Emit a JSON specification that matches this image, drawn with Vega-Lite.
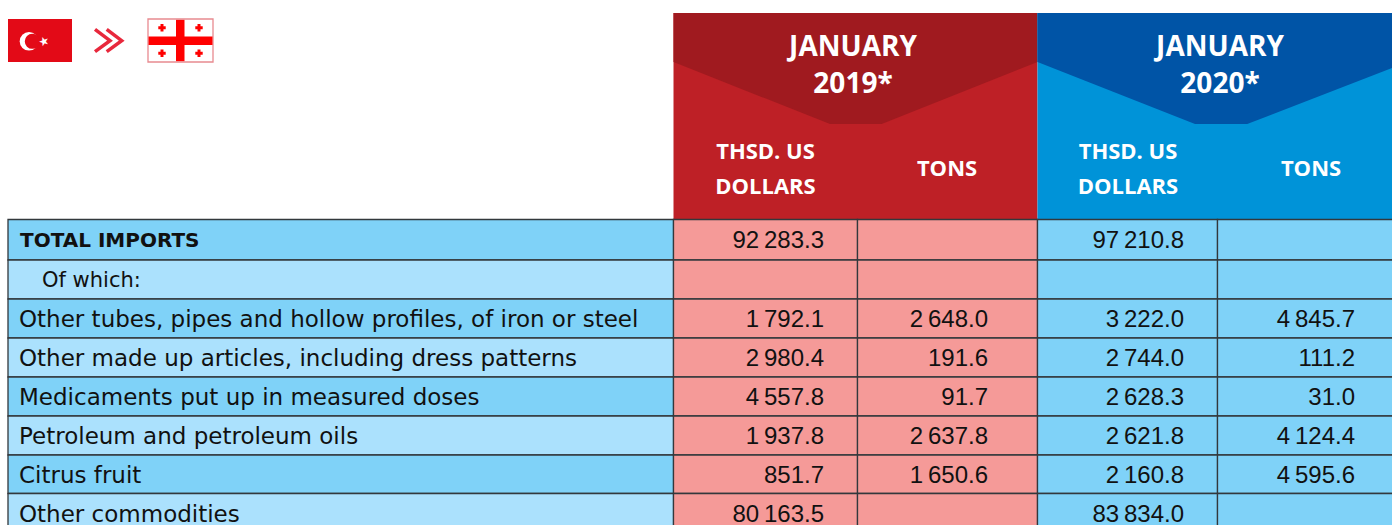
{"$schema":"https://vega.github.io/schema/vega-lite/v6.json","width":1392,"height":525,"padding":0,"autosize":{"type":"none"},"background":"white","config":{"view":{"stroke":null}},"datasets":{"cells":[{"row":0,"col":0,"tone":"a","val":""},{"row":1,"col":0,"tone":"b","val":""},{"row":2,"col":0,"tone":"a","val":""},{"row":3,"col":0,"tone":"b","val":""},{"row":4,"col":0,"tone":"a","val":""},{"row":5,"col":0,"tone":"b","val":""},{"row":6,"col":0,"tone":"a","val":""},{"row":7,"col":0,"tone":"b","val":""},{"row":0,"col":1,"tone":"p","val":"92\u2009283.3"},{"row":0,"col":2,"tone":"p","val":""},{"row":0,"col":3,"tone":"a","val":"97\u2009210.8"},{"row":0,"col":4,"tone":"a","val":""},{"row":1,"col":1,"tone":"p","val":""},{"row":1,"col":2,"tone":"p","val":""},{"row":1,"col":3,"tone":"a","val":""},{"row":1,"col":4,"tone":"a","val":""},{"row":2,"col":1,"tone":"p","val":"1\u2009792.1"},{"row":2,"col":2,"tone":"p","val":"2\u2009648.0"},{"row":2,"col":3,"tone":"a","val":"3\u2009222.0"},{"row":2,"col":4,"tone":"a","val":"4\u2009845.7"},{"row":3,"col":1,"tone":"p","val":"2\u2009980.4"},{"row":3,"col":2,"tone":"p","val":"191.6"},{"row":3,"col":3,"tone":"a","val":"2\u2009744.0"},{"row":3,"col":4,"tone":"a","val":"111.2"},{"row":4,"col":1,"tone":"p","val":"4\u2009557.8"},{"row":4,"col":2,"tone":"p","val":"91.7"},{"row":4,"col":3,"tone":"a","val":"2\u2009628.3"},{"row":4,"col":4,"tone":"a","val":"31.0"},{"row":5,"col":1,"tone":"p","val":"1\u2009937.8"},{"row":5,"col":2,"tone":"p","val":"2\u2009637.8"},{"row":5,"col":3,"tone":"a","val":"2\u2009621.8"},{"row":5,"col":4,"tone":"a","val":"4\u2009124.4"},{"row":6,"col":1,"tone":"p","val":"851.7"},{"row":6,"col":2,"tone":"p","val":"1\u2009650.6"},{"row":6,"col":3,"tone":"a","val":"2\u2009160.8"},{"row":6,"col":4,"tone":"a","val":"4\u2009595.6"},{"row":7,"col":1,"tone":"p","val":"80\u2009163.5"},{"row":7,"col":2,"tone":"p","val":""},{"row":7,"col":3,"tone":"a","val":"83\u2009834.0"},{"row":7,"col":4,"tone":"a","val":""}],"labels":[{"row":2,"label":"Other tubes, pipes and hollow profiles, of iron or steel"},{"row":3,"label":"Other made up articles, including dress patterns"},{"row":4,"label":"Medicaments put up in measured doses"},{"row":5,"label":"Petroleum and petroleum oils"},{"row":6,"label":"Citrus fruit"},{"row":7,"label":"Other commodities"}],"headers":[{"t":"JANUARY","hcol":1,"hrow":0,"big":true},{"t":"2019*","hcol":1,"hrow":1,"big":true},{"t":"JANUARY","hcol":4,"hrow":0,"big":true},{"t":"2020*","hcol":4,"hrow":1,"big":true},{"t":"THSD. US","hcol":0,"hrow":2,"big":false},{"t":"DOLLARS","hcol":0,"hrow":4,"big":false},{"t":"TONS","hcol":2,"hrow":3,"big":false},{"t":"THSD. US","hcol":3,"hrow":2,"big":false},{"t":"DOLLARS","hcol":3,"hrow":4,"big":false},{"t":"TONS","hcol":5,"hrow":3,"big":false}]},"layer":[{"data":{"values":[{"a":0,"b":1,"c":0,"d":1}]},"mark":{"type":"rect","fill":"#be2026"},"encoding":{"x":{"field":"a","type":"quantitative","axis":null,"scale":{"domain":[0,1],"range":[673.5,1037.5],"nice":false,"zero":false}},"x2":{"field":"b"},"y":{"field":"c","type":"quantitative","axis":null,"scale":{"domain":[0,1],"range":[13,219],"nice":false,"zero":false}},"y2":{"field":"d"}}},{"data":{"values":[{"f":0,"top":0,"depth":0.238},{"f":0.43,"top":0,"depth":0.539},{"f":0.572,"top":0,"depth":0.539},{"f":1,"top":0,"depth":0.238}]},"mark":{"type":"area","fill":"#a01a1f"},"encoding":{"x":{"field":"f","type":"quantitative","axis":null,"scale":{"domain":[0,1],"range":[673.5,1037.5],"nice":false,"zero":false}},"y":{"field":"top","type":"quantitative","axis":null,"scale":{"domain":[0,1],"range":[13,219],"nice":false,"zero":false}},"y2":{"field":"depth"}}},{"data":{"values":[{"a":0,"b":1,"c":0,"d":1}]},"mark":{"type":"rect","fill":"#0093d8"},"encoding":{"x":{"field":"a","type":"quantitative","axis":null,"scale":{"domain":[0,1],"range":[1037.5,1393],"nice":false,"zero":false}},"x2":{"field":"b"},"y":{"field":"c","type":"quantitative","axis":null,"scale":{"domain":[0,1],"range":[13,219],"nice":false,"zero":false}},"y2":{"field":"d"}}},{"data":{"values":[{"f":0,"top":0,"depth":0.238},{"f":0.443,"top":0,"depth":0.539},{"f":0.59,"top":0,"depth":0.539},{"f":1,"top":0,"depth":0.2655}]},"mark":{"type":"area","fill":"#0054a6"},"encoding":{"x":{"field":"f","type":"quantitative","axis":null,"scale":{"domain":[0,1],"range":[1037.5,1393],"nice":false,"zero":false}},"y":{"field":"top","type":"quantitative","axis":null,"scale":{"domain":[0,1],"range":[13,219],"nice":false,"zero":false}},"y2":{"field":"depth"}}},{"data":{"name":"cells"},"transform":[{"calculate":"datum.row+1","as":"rowEnd"},{"calculate":"datum.col+1","as":"colEnd"}],"mark":{"type":"rect","stroke":"#33383c","strokeWidth":1.3},"encoding":{"x":{"field":"col","type":"quantitative","axis":null,"scale":{"domain":[0,1,2,3,4,5],"range":[8,673.5,857.5,1037.5,1217.5,1400],"nice":false,"zero":false}},"x2":{"field":"colEnd"},"y":{"field":"row","type":"quantitative","axis":null,"scale":{"domain":[0,1,2,3,4,5,6,7,8],"range":[219.5,260,299,338,377,416,455,493.5,532.5],"nice":false,"zero":false}},"y2":{"field":"rowEnd"},"fill":{"field":"tone","type":"nominal","legend":null,"scale":{"domain":["a","b","p"],"range":["#7fd2f8","#abe1fd","#f59a98"]}}}},{"data":{"name":"cells"},"transform":[{"filter":"datum.val!==''"}],"mark":{"type":"text","align":"right","baseline":"middle","font":"Liberation Sans","fontSize":24,"fill":"#111111"},"encoding":{"x":{"field":"col","type":"quantitative","axis":null,"scale":{"domain":[1,2,3,4],"range":[824,988,1184,1355],"nice":false,"zero":false}},"y":{"field":"row","type":"quantitative","axis":null,"scale":{"domain":[0,1,2,3,4,5,6,7],"range":[241,280.5,319.5,358.5,397.5,436.5,475.5,514.5],"nice":false,"zero":false}},"text":{"field":"val"}}},{"data":{"name":"labels"},"mark":{"type":"text","align":"left","baseline":"middle","font":"DejaVu Sans","fontSize":23,"fill":"#111111","x":19},"encoding":{"y":{"field":"row","type":"quantitative","axis":null,"scale":{"domain":[0,1,2,3,4,5,6,7],"range":[241,280.5,319.5,358.5,397.5,436.5,475.5,514.5],"nice":false,"zero":false}},"text":{"field":"label"}}},{"data":{"values":[{"row":0,"label":"TOTAL IMPORTS"}]},"mark":{"type":"text","align":"left","baseline":"middle","font":"DejaVu Sans","fontWeight":"bold","fontSize":20,"fill":"#111111","x":20},"encoding":{"y":{"field":"row","type":"quantitative","axis":null,"scale":{"domain":[0,1,2,3,4,5,6,7],"range":[241,280.5,319.5,358.5,397.5,436.5,475.5,514.5],"nice":false,"zero":false}},"text":{"field":"label"}}},{"data":{"values":[{"row":1,"label":"Of which:"}]},"mark":{"type":"text","align":"left","baseline":"middle","font":"DejaVu Sans","fontSize":21,"fill":"#111111","x":42},"encoding":{"y":{"field":"row","type":"quantitative","axis":null,"scale":{"domain":[0,1,2,3,4,5,6,7],"range":[241,280.5,319.5,358.5,397.5,436.5,475.5,514.5],"nice":false,"zero":false}},"text":{"field":"label"}}},{"data":{"name":"headers"},"transform":[{"filter":"datum.big"}],"mark":{"type":"text","align":"center","baseline":"middle","font":"Open Sans","fontWeight":"bold","fontSize":28,"fill":"white"},"encoding":{"x":{"field":"hcol","type":"quantitative","axis":null,"scale":{"domain":[0,1,2,3,4,5],"range":[765.5,853,947,1128,1220,1311],"nice":false,"zero":false}},"y":{"field":"hrow","type":"quantitative","axis":null,"scale":{"domain":[0,1,2,3,4],"range":[47.5,84.5,152,169,187],"nice":false,"zero":false}},"text":{"field":"t"}}},{"data":{"name":"headers"},"transform":[{"filter":"!datum.big"}],"mark":{"type":"text","align":"center","baseline":"middle","font":"Open Sans","fontWeight":"bold","fontSize":22,"fill":"white"},"encoding":{"x":{"field":"hcol","type":"quantitative","axis":null,"scale":{"domain":[0,1,2,3,4,5],"range":[765.5,853,947,1128,1220,1311],"nice":false,"zero":false}},"y":{"field":"hrow","type":"quantitative","axis":null,"scale":{"domain":[0,1,2,3,4],"range":[47.5,84.5,152,169,187],"nice":false,"zero":false}},"text":{"field":"t"}}},{"data":{"values":[{"x0":0.6829,"x1":1,"y0":0,"y1":1}]},"mark":{"type":"rect","fill":"#ffffff","stroke":"#e88a90","strokeWidth":1.3},"encoding":{"x":{"field":"x0","type":"quantitative","axis":null,"scale":{"domain":[0,1],"range":[8,213],"nice":false,"zero":false}},"x2":{"field":"x1"},"y":{"field":"y0","type":"quantitative","axis":null,"scale":{"domain":[0,1],"range":[19,62],"nice":false,"zero":false}},"y2":{"field":"y1"}}},{"data":{"values":[{"part":"turkey","x0":0,"x1":0.3122,"y0":0,"y1":1,"c":"tr"},{"part":"gv","x0":0.8195,"x1":0.861,"y0":0.02,"y1":0.98,"c":"gr"},{"part":"gh","x0":0.6855,"x1":0.9975,"y0":0.407,"y1":0.605,"c":"gr"}]},"mark":{"type":"rect"},"encoding":{"x":{"field":"x0","type":"quantitative","axis":null,"scale":{"domain":[0,1],"range":[8,213],"nice":false,"zero":false}},"x2":{"field":"x1"},"y":{"field":"y0","type":"quantitative","axis":null,"scale":{"domain":[0,1],"range":[19,62],"nice":false,"zero":false}},"y2":{"field":"y1"},"fill":{"field":"c","type":"nominal","legend":null,"scale":{"domain":["tr","gr"],"range":["#e30a17","#ff0000"]}}}},{"data":{"values":[{"x":0.1024,"y":0.5186}]},"mark":{"type":"point","shape":"circle","filled":true,"opacity":1,"size":346,"color":"#ffffff"},"encoding":{"x":{"field":"x","type":"quantitative","axis":null,"scale":{"domain":[0,1],"range":[8,213],"nice":false,"zero":false}},"y":{"field":"y","type":"quantitative","axis":null,"scale":{"domain":[0,1],"range":[19,62],"nice":false,"zero":false}}}},{"data":{"values":[{"x":0.1185,"y":0.5186}]},"mark":{"type":"point","shape":"circle","filled":true,"opacity":1,"size":227,"color":"#e30a17"},"encoding":{"x":{"field":"x","type":"quantitative","axis":null,"scale":{"domain":[0,1],"range":[8,213],"nice":false,"zero":false}},"y":{"field":"y","type":"quantitative","axis":null,"scale":{"domain":[0,1],"range":[19,62],"nice":false,"zero":false}}}},{"data":{"values":[{"x":0.1756,"y":0.5186,"t":"★"}]},"mark":{"type":"text","font":"DejaVu Sans","fontSize":12,"align":"center","baseline":"middle","fill":"white","angle":340},"encoding":{"x":{"field":"x","type":"quantitative","axis":null,"scale":{"domain":[0,1],"range":[8,213],"nice":false,"zero":false}},"y":{"field":"y","type":"quantitative","axis":null,"scale":{"domain":[0,1],"range":[19,62],"nice":false,"zero":false}},"text":{"field":"t"}}},{"data":{"values":[{"x":0.7512,"y":0.2023},{"x":0.9317,"y":0.2023},{"x":0.7512,"y":0.798},{"x":0.9317,"y":0.798}]},"mark":{"type":"point","shape":"cross","filled":true,"size":55,"color":"#ff0000","opacity":1},"encoding":{"x":{"field":"x","type":"quantitative","axis":null,"scale":{"domain":[0,1],"range":[8,213],"nice":false,"zero":false}},"y":{"field":"y","type":"quantitative","axis":null,"scale":{"domain":[0,1],"range":[19,62],"nice":false,"zero":false}}}},{"data":{"values":[{"g":"a","x":0.4244,"y":0.2395,"o":0},{"g":"a","x":0.4976,"y":0.5047,"o":1},{"g":"a","x":0.4244,"y":0.7605,"o":2},{"g":"b","x":0.4815,"y":0.2395,"o":0},{"g":"b","x":0.5546,"y":0.5047,"o":1},{"g":"b","x":0.4815,"y":0.7605,"o":2}]},"mark":{"type":"line","color":"#e8283c","strokeWidth":3.5},"encoding":{"x":{"field":"x","type":"quantitative","axis":null,"scale":{"domain":[0,1],"range":[8,213],"nice":false,"zero":false}},"y":{"field":"y","type":"quantitative","axis":null,"scale":{"domain":[0,1],"range":[19,62],"nice":false,"zero":false}},"detail":{"field":"g"},"order":{"field":"o"}}}],"resolve":{"scale":{"x":"independent","y":"independent","fill":"independent"}}}
